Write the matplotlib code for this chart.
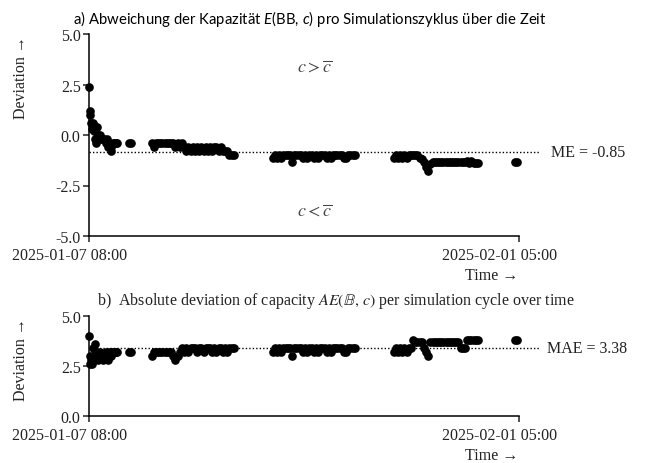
import numpy as np
import pandas as pd
import matplotlib
matplotlib.use('Agg')
import matplotlib.pyplot as plt
import matplotlib.dates as mdates
from matplotlib.transforms import ScaledTranslation

plt.rcParams['mathtext.fontset'] = 'custom'
plt.rcParams['mathtext.rm'] = 'Lato'
plt.rcParams['mathtext.it'] = 'Lato:italic'

SERIF = ['Liberation Serif', 'DejaVu Serif']

t_start = pd.Timestamp('2025-01-07 08:00')
t_end = pd.Timestamp('2025-02-01 05:00')

# early hours (irregular samples)
early_hours = [0, 1, 2, 3, 4, 5, 6, 7, 8, 9, 10, 11, 13, 15, 17, 19, 21, 23, 25, 26, 28, 30, 31, 33, 35, 37, 39, 56, 58]
early_me = [2.4, 1.2, 1.0, 0.6, 0.3, 0.4, 0.6, 0.2, -0.2, 0.4, -0.4, 0.4, 0.0, 0.0, -0.2, -0.2, -0.2, -0.4,
            -0.2, -0.6, -0.4, -0.6, -0.8, -0.4, -0.4, -0.4, -0.4, -0.4, -0.4]
early_ae = [4.0, 3.0, 2.6, 2.8, 2.6, 3.0, 3.4, 2.8, 3.6, 3.0, 3.2, 3.2, 2.8, 3.2, 3.0, 2.8, 3.0, 3.2,
            3.0, 2.8, 3.2, 3.0, 3.2, 3.2, 3.2, 3.2, 3.2, 3.2, 3.2]

# simulation blocks: first hour, then one value every 3 hours
block_start = [87, 255, 423, 591]
block_me = [
    [-0.4, -0.6, -0.4, -0.4, -0.4, -0.4, -0.4, -0.4, -0.4, -0.4, -0.4, -0.6, -0.4, -0.6, -0.4, -0.6, -0.8,
     -0.6, -0.8, -0.6, -0.8, -0.6, -0.8, -0.6, -0.8, -0.6, -0.8, -0.6, -0.8, -0.6, -0.6, -0.8, -0.6, -0.8,
     -0.8, -0.8, -1.0, -1.0, -1.0],
    [-1.15, -1.0, -1.15, -1.0, -1.15, -1.0, -1.0, -1.0, -1.0, -1.35, -1.0, -1.0, -1.0, -1.0, -1.15, -1.0,
     -1.15, -1.0, -1.0, -1.15, -1.0, -1.15, -1.0, -1.0, -1.0, -1.15, -1.0, -1.15, -1.0, -1.0, -1.0, -1.0,
     -1.0, -1.15, -1.15, -1.0, -1.0, -1.0, -1.0],
    [-1.15, -1.0, -1.15, -1.0, -1.15, -1.0, -1.15, -1.0, -1.0, -1.0, -1.0, -1.0, -1.15, -1.2, -1.35, -1.6,
     -1.8, -1.45, -1.35, -1.35, -1.35, -1.35, -1.35, -1.35, -1.35, -1.35, -1.35, -1.35, -1.35, -1.35,
     -1.35, -1.35, -1.35, -1.35, -1.3, -1.4, -1.3, -1.4, -1.4, -1.4],
    [-1.35, -1.35],
]
block_ae = [
    [3.0, 3.2, 3.2, 3.2, 3.2, 3.2, 3.2, 3.2, 3.2, 3.2, 3.0, 2.8, 3.0, 3.2, 3.4, 3.2, 3.4, 3.2, 3.4, 3.4,
     3.4, 3.2, 3.4, 3.4, 3.2, 3.4, 3.4, 3.4, 3.2, 3.4, 3.2, 3.4, 3.4, 3.2, 3.4, 3.2, 3.4, 3.4, 3.4],
    [3.2, 3.4, 3.2, 3.4, 3.2, 3.4, 3.4, 3.4, 3.4, 3.0, 3.4, 3.4, 3.4, 3.4, 3.2, 3.4, 3.2, 3.4, 3.4, 3.2,
     3.4, 3.2, 3.4, 3.4, 3.4, 3.2, 3.4, 3.2, 3.4, 3.4, 3.4, 3.4, 3.4, 3.2, 3.2, 3.4, 3.4, 3.4, 3.4],
    [3.2, 3.4, 3.2, 3.4, 3.2, 3.4, 3.2, 3.4, 3.4, 3.8, 3.7, 3.7, 3.7, 3.7, 3.4, 3.2, 3.0, 3.7, 3.7, 3.7,
     3.7, 3.7, 3.7, 3.7, 3.7, 3.7, 3.7, 3.7, 3.7, 3.7, 3.7, 3.4, 3.4, 3.4, 3.8, 3.8, 3.8, 3.8, 3.8, 3.8],
    [3.8, 3.8],
]

me_value = -0.85
mae_value = 3.38


def to_times(hours):
    return t_start + pd.to_timedelta(np.asarray(hours, dtype=float), unit='h')


def collect(early_vals, blocks):
    hrs = list(early_hours)
    vals = list(early_vals)
    for start, bv in zip(block_start, blocks):
        hrs += list(range(start, start + 3 * len(bv), 3))
        vals += bv
    return to_times(hrs), np.array(vals)


def style_axes(ax, ylim, yticks):
    ax.set_xlim(t_start, t_end)
    ax.set_ylim(*ylim)
    ax.set_yticks(yticks)
    ax.set_yticklabels([f'{v:.1f}' for v in yticks], family=SERIF, fontsize=11.5)
    ax.set_xticks([t_start, t_end])
    ax.xaxis.set_major_formatter(mdates.DateFormatter('%Y-%m-%d %H:%M'))
    for s in ['top', 'right']:
        ax.spines[s].set_visible(False)
    for s in ['left', 'bottom']:
        ax.spines[s].set_linewidth(1.1)
    ax.tick_params(direction='out', length=4, width=1.1, pad=2, colors='#222')
    ax.tick_params(axis='x', pad=4)
    # labels sit a bit left of their ticks in the original
    for tick in ax.xaxis.get_major_ticks():
        lab = tick.label1
        lab.set_family(SERIF)
        lab.set_fontsize(11.5)
        lab.set_transform(lab.get_transform() + ScaledTranslation(-0.19, 0, fig.dpi_scale_trans))
    ax.set_ylabel('Deviation →', family=SERIF, fontsize=11.5, color='#222')
    ax.set_xlabel('Time →', family=SERIF, fontsize=11.5, color='#222')


fig = plt.figure(figsize=(6.48, 4.64), dpi=100)
ax1 = fig.add_axes([89 / 648, 1 - 237 / 464, 430 / 648, 202 / 464])
ax2 = fig.add_axes([89 / 648, 1 - 417 / 464, 430 / 648, 100 / 464])

t1, v1 = collect(early_me, block_me)
t2, v2 = collect(early_ae, block_ae)

ax1.plot(t1, v1, 'o', color='black', markersize=5.2, clip_on=False, zorder=3)
ax2.plot(t2, v2, 'o', color='black', markersize=5.2, clip_on=False, zorder=3)

ax1.axhline(me_value, xmin=0, xmax=451 / 430, color='black', linestyle=(0, (1, 1.5)), linewidth=1.0,
            clip_on=False, zorder=2)
ax2.axhline(mae_value, xmin=0, xmax=451 / 430, color='black', linestyle=(0, (1, 1.5)), linewidth=1.0,
            clip_on=False, zorder=2)

style_axes(ax1, (-5, 5), [-5.0, -2.5, 0.0, 2.5, 5.0])
style_axes(ax2, (0, 5), [0.0, 2.5, 5.0])

ax1.xaxis.set_label_coords(0.937, -0.155)
ax2.xaxis.set_label_coords(0.937, -0.31)
ax1.yaxis.set_label_coords(-0.14, 0.79)
ax2.yaxis.set_label_coords(-0.14, 0.57)

ax1.text(1.075, me_value, 'ME = -0.85', transform=ax1.get_yaxis_transform(), family=SERIF,
         fontsize=11.5, va='center', ha='left', color='#222')
ax2.text(1.066, mae_value, 'MAE = 3.38', transform=ax2.get_yaxis_transform(), family=SERIF,
         fontsize=11.5, va='center', ha='left', color='#222')

ax1.text(0.525, 0.84, r'$c > \overline{c}$', transform=ax1.transAxes, fontsize=13, ha='center',
         va='center', color='#444', math_fontfamily='stix')
ax1.text(0.525, 0.125, r'$c < \overline{c}$', transform=ax1.transAxes, fontsize=13, ha='center',
         va='center', color='#444', math_fontfamily='stix')

fig.text(310 / 648, 1 - 19 / 464, r'a) Abweichung der Kapazität $E$(BB, $c$) pro Simulationszyklus über die Zeit',
         family='Lato', fontsize=10.7, ha='center', va='center', math_fontfamily='custom')
fig.text(336 / 648, 1 - 301 / 464,
         r'b)  Absolute deviation of capacity $AE(\mathbb{B},\, c)$ per simulation cycle over time',
         family=SERIF, fontsize=11.5, ha='center', va='center', color='#222', math_fontfamily='stix')

fig.savefig('out.png', dpi=100)
